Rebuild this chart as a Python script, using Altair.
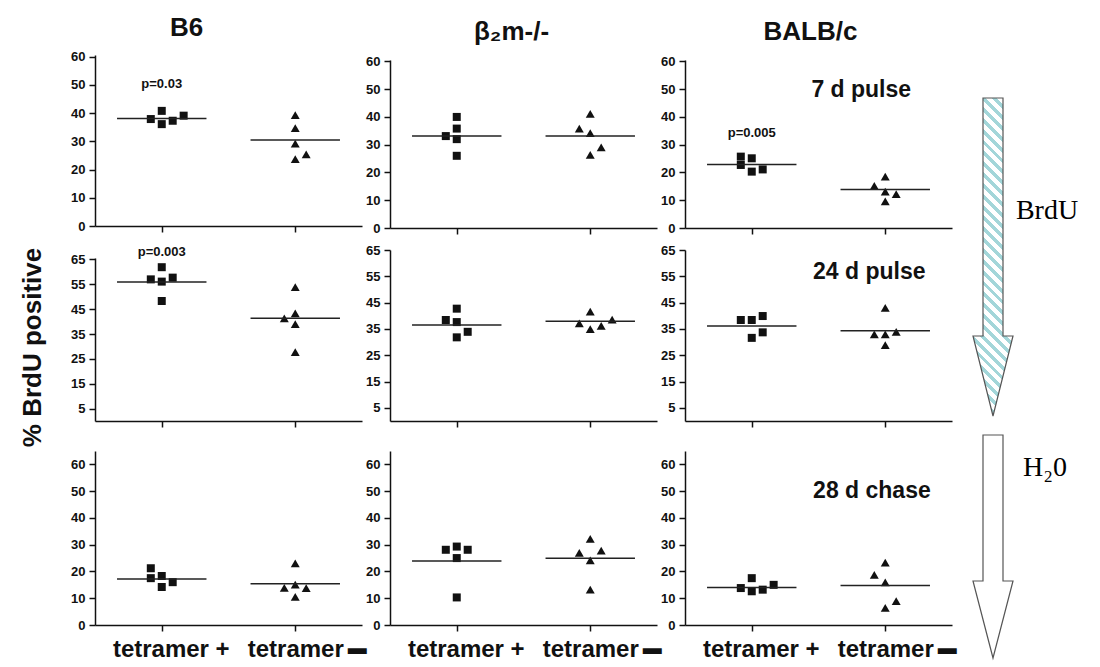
import altair as alt
import pandas as pd

strains = ["B6", "β₂m-/-", "BALB/c"]
stages = ["7 d pulse", "24 d pulse", "28 d chase"]
groups = ["tetramer +", "tetramer -"]

# % BrdU positive, five mice per group
b6_7_pos = [37.9, 40.8, 36.1, 37.3, 39.1]
b6_7_neg = [39.3, 34.7, 29.2, 23.7, 25.4]
b2m_7_pos = [33.1, 40.0, 35.8, 32.0, 26.0]
b2m_7_neg = [35.8, 41.1, 34.2, 29.0, 26.3]
balb_7_pos = [25.7, 25.1, 22.7, 20.3, 21.1]
balb_7_neg = [18.5, 15.2, 13.1, 12.2, 9.6]

b6_24_pos = [61.9, 57.0, 56.1, 57.7, 48.3]
b6_24_neg = [53.9, 43.3, 41.3, 39.0, 27.7]
b2m_24_pos = [42.7, 38.4, 37.6, 33.9, 31.8]
b2m_24_neg = [41.6, 37.1, 38.5, 34.9, 36.2]
balb_24_pos = [38.4, 38.4, 39.9, 33.7, 31.6]
balb_24_neg = [43.0, 32.9, 32.9, 33.9, 28.8]

b6_28_pos = [21.2, 17.5, 18.3, 14.2, 16.0]
b6_28_neg = [23.0, 13.9, 15.1, 13.8, 10.5]
b2m_28_pos = [28.1, 29.3, 28.1, 25.0, 10.3]
b2m_28_neg = [32.2, 26.9, 27.8, 24.1, 13.2]
balb_28_pos = [17.5, 13.8, 12.6, 13.2, 15.0]
balb_28_neg = [23.3, 18.7, 15.9, 8.9, 6.4]

# side-by-side placement of each mouse, in marker widths from the group centre
b6_7_pos_dx = [-1, 0, 0, 1, 2]
b6_7_neg_dx = [0, 0, 0, 0, 1]
b2m_7_pos_dx = [-1, 0, 0, 0, 0]
b2m_7_neg_dx = [-1, 0, 0, 1, 0]
balb_7_pos_dx = [-1, 0, -1, 0, 1]
balb_7_neg_dx = [0, -1, 0, 1, 0]
b6_24_pos_dx = [0, -1, 0, 1, 0]
b6_24_neg_dx = [0, 0, -1, 0, 0]
b2m_24_pos_dx = [0, -1, 0, 1, 0]
b2m_24_neg_dx = [0, -1, 2, 0, 1]
balb_24_pos_dx = [-1, 0, 1, 1, 0]
balb_24_neg_dx = [0, -1, 0, 1, 0]
b6_28_pos_dx = [-1, -1, 0, 0, 1]
b6_28_neg_dx = [0, -1, 0, 1, 0]
b2m_28_pos_dx = [-1, 0, 1, 0, 0]
b2m_28_neg_dx = [0, -1, 1, 0, 0]
balb_28_pos_dx = [0, -1, 0, 1, 2]
balb_28_neg_dx = [0, -1, 0, 1, 0]

# group medians [tetramer +, tetramer -] for B6, b2m-/-, BALB/c
med_7 = [[38.1, 30.5], [33.1, 33.1], [22.9, 13.9]]
med_24 = [[55.9, 41.4], [36.5, 37.9], [36.1, 34.3]]
med_28 = [[17.2, 15.4], [23.9, 24.9], [14.0, 14.8]]

p_texts = ["p=0.03", "p=0.003", "p=0.005"]
p_stage = [0, 1, 0]
p_strain = [0, 0, 2]
p_level = [50.5, 68.0, 34.3]

stage_level = [49.8, 56.7, 50.0]
stage_xpos = [1.32, 1.38, 1.40]

y_ticks = [[0, 10, 20, 30, 40, 50, 60], [5, 15, 25, 35, 45, 55, 65], [0, 10, 20, 30, 40, 50, 60]]

# arrows on the right (BrdU pulse, H2O chase), figure pixel frame
arrow_labels = ["BrdU", "H₂0"]
arrow_top = [100, 437]
arrow_neck = [338, 583]
arrow_tip = [418, 660]
arrow_label_y = [213, 470]
arrow_label_x = [1047, 1045]

VALUES = [
    [(b6_7_pos, b6_7_neg), (b2m_7_pos, b2m_7_neg), (balb_7_pos, balb_7_neg)],
    [(b6_24_pos, b6_24_neg), (b2m_24_pos, b2m_24_neg), (balb_24_pos, balb_24_neg)],
    [(b6_28_pos, b6_28_neg), (b2m_28_pos, b2m_28_neg), (balb_28_pos, balb_28_neg)],
]
STEPS = [
    [(b6_7_pos_dx, b6_7_neg_dx), (b2m_7_pos_dx, b2m_7_neg_dx), (balb_7_pos_dx, balb_7_neg_dx)],
    [(b6_24_pos_dx, b6_24_neg_dx), (b2m_24_pos_dx, b2m_24_neg_dx), (balb_24_pos_dx, balb_24_neg_dx)],
    [(b6_28_pos_dx, b6_28_neg_dx), (b2m_28_pos_dx, b2m_28_neg_dx), (balb_28_pos_dx, balb_28_neg_dx)],
]
MEDIANS = [med_7, med_24, med_28]

# ---- layout / style ----
W = 267
ROW_H = [173, 163, 174]
Y_DOMAIN = [[[0, 60.6], [0, 60.5], [0, 60.5]],
            [[0, 65.6], [0, 65], [0, 65]],
            [[0, 65], [0, 65], [0, 65]]]
Y_RANGE = [[[171, 0], [173, 5], [173, 5]],
           [[163, 0], [163, -8], [163, -8]],
           [[174, 0], [174, 0], [174, 0]]]
STEP = 0.082
HALF = 0.335
INK = "#111111"
SANS = "Liberation Sans"
TITLE_DX = [-42, -12, -8]
BAR_X = 1.965      # position of the raised bar after "tetramer" (x units)
BAR_Y = -8.6       # just below the axis (y units)


def panel(si, ci):
    rows = []
    for gi, g in enumerate(groups):
        for v, s in zip(VALUES[si][ci][gi], STEPS[si][ci][gi]):
            rows.append({"group": g, "xpos": gi + 0.5 + s * STEP, "pct": v})
    pts_df = pd.DataFrame(rows)
    line_df = pd.DataFrame({
        "xpos": [0.5 - HALF, 1.5 - HALF],
        "xend": [0.5 + HALF, 1.5 + HALF],
        "pct": MEDIANS[si][ci],
    })
    txt = []
    for t, s_, c_, lv in zip(p_texts, p_stage, p_strain, p_level):
        if s_ == si and c_ == ci:
            txt.append({"xpos": 0.5, "pct": lv, "label": t})
    big = []
    if ci == 2:
        big.append({"xpos": stage_xpos[si], "pct": stage_level[si], "label": stages[si]})

    xs = alt.Scale(domain=[0, 2], nice=False, zero=False)
    ys = alt.Scale(domain=Y_DOMAIN[si][ci], range=Y_RANGE[si][ci], nice=False, zero=False)

    if si < 2:
        xa = alt.Axis(values=[0.5, 1.5], labels=False, title=None, grid=False,
                      offset=(-2 if (si == 0 and ci == 0) else 0))
    else:
        xa = alt.Axis(values=[0.5, 1.5], title=None, grid=False,
                      labelExpr="datum.value < 1 ? 'tetramer +' : 'tetramer'",
                      labelOffset={"condition": {"test": "datum.value < 1", "value": 9}, "value": 0},
                      labelFontSize=24, labelPadding=6, labelOverlap=False, labelFlush=False)
    if si == 1 and ci == 0:
        ya = alt.Axis(values=y_ticks[si], grid=False, title="% BrdU positive",
                      titleX=-63, titleY=89, titleAngle=270, titleAlign="center",
                      titleBaseline="middle", titleFontSize=26, titleFontWeight="bold")
    else:
        ya = alt.Axis(values=y_ticks[si], grid=False, title=None)

    X = alt.X("xpos:Q", scale=xs, axis=xa)
    Y = alt.Y("pct:Q", scale=ys, axis=ya)

    pts = alt.Chart(pts_df).mark_point(filled=True, opacity=1, color=INK).encode(
        x=X, y=Y,
        shape=alt.Shape("group:N", scale=alt.Scale(domain=groups, range=["square", "triangle-up"]), legend=None),
        size=alt.Size("group:N", scale=alt.Scale(domain=groups, range=[64, 80]), legend=None),
    )
    lines = alt.Chart(line_df).mark_rule(color="#222222", strokeWidth=1.5).encode(
        x=X, x2="xend:Q", y=Y)
    layers = [pts, lines]
    if txt:
        layers.append(alt.Chart(pd.DataFrame(txt)).mark_text(
            font=SANS, fontSize=13, fontWeight="bold", color=INK, baseline="middle").encode(
            x=X, y=Y, text="label:N"))
    if big:
        layers.append(alt.Chart(pd.DataFrame(big)).mark_text(
            font=SANS, fontSize=23, fontWeight="bold", color=INK, baseline="middle").encode(
            x=X, y=Y, text="label:N"))
    if si == 2:
        layers.append(alt.Chart(pd.DataFrame({"xpos": [BAR_X], "pct": [BAR_Y], "label": ["▬"]})).mark_text(
            font=SANS, fontSize=19, color=INK, baseline="middle").encode(
            x=X, y=Y, text="label:N"))
    ch = alt.layer(*layers).properties(width=W, height=ROW_H[si])
    if si == 0:
        ch = ch.properties(title=alt.TitleParams(
            strains[ci], fontSize=26, fontWeight="bold", font=SANS, color=INK,
            anchor="middle", frame="group", offset=10, dx=TITLE_DX[ci]))
    return ch


# ---- arrows (drawn from the 4th cell of the first row) ----
AW = 100
shaft_l, shaft_r, head_l, head_r = 983, 1003, 973, 1013
mid = (shaft_l + shaft_r) / 2
ax_scale = alt.Scale(domain=[980, 980 + AW], nice=False, zero=False)
ay_scale = alt.Scale(domain=[57, 57 + ROW_H[0]], reverse=True, nice=False, zero=False)


def arrow_df(i):
    return pd.DataFrame({
        "y": [arrow_top[i], arrow_neck[i], arrow_neck[i] + 0.01, arrow_tip[i]],
        "xl": [shaft_l, shaft_l, head_l, mid],
        "xr": [shaft_r, shaft_r, head_r, mid],
    })


# diagonal hatch as a hard-stop gradient (stripes at 45 degrees in screen space)
h0 = arrow_tip[0] - arrow_top[0]
g = (head_r - head_l) / h0
span = (1 + g) / (1 + g * g)          # covers the whole bounding box
n_per = 33
stops = []
for k in range(n_per):
    a = k / n_per
    b = (k + 0.45) / n_per
    c = (k + 1) / n_per
    stops += [{"offset": a, "color": "#a3d6d9"}, {"offset": b, "color": "#a3d6d9"},
              {"offset": b, "color": "#ffffff"}, {"offset": c, "color": "#ffffff"}]
hatch = {"gradient": "linear", "x1": 0, "y1": 1, "x2": g * span, "y2": 1 - span, "stops": stops}

arr_y = alt.Y("y:Q", scale=ay_scale, axis=None)
arr_x = alt.X("xl:Q", scale=ax_scale, axis=None)
brdu_arrow = alt.Chart(arrow_df(0)).mark_area(
    orient="horizontal", fill=hatch, stroke="#555555", strokeWidth=1.2, opacity=1).encode(
    y=arr_y, x=arr_x, x2="xr:Q")
h2o_arrow = alt.Chart(arrow_df(1)).mark_area(
    orient="horizontal", fill="#ffffff", stroke="#555555", strokeWidth=1.2, opacity=1).encode(
    y=arr_y, x=arr_x, x2="xr:Q")
arrow_text = alt.Chart(pd.DataFrame({"xl": arrow_label_x, "y": arrow_label_y, "label": arrow_labels})).mark_text(
    font="Liberation Serif", fontSize=28, color="#000000", baseline="middle").encode(
    x=arr_x, y=arr_y, text="label:N")
arrows = alt.layer(brdu_arrow, h2o_arrow, arrow_text).properties(width=AW, height=ROW_H[0])

spacer = alt.Chart(pd.DataFrame({"v": [0]})).mark_point(opacity=0).encode(
    x=alt.X("v:Q", axis=None), y=alt.Y("v:Q", axis=None)).properties(width=AW, height=ROW_H[1])

cells = [panel(0, 0), panel(0, 1), panel(0, 2), arrows,
         panel(1, 0), panel(1, 1), panel(1, 2), spacer,
         panel(2, 0), panel(2, 1), panel(2, 2)]

chart = alt.concat(*cells, columns=4, spacing={"row": 30, "column": 28}, bounds="flush").properties(
    padding={"left": 11, "top": 6, "right": 0, "bottom": 0}
).configure_view(stroke=None).configure_axis(
    domainColor=INK, domainWidth=1.5, tickColor=INK, tickWidth=1.5, tickSize=6,
    labelFont=SANS, labelFontSize=13, labelFontWeight="bold", labelColor=INK, labelPadding=4,
    titleFont=SANS, titleColor=INK, grid=False
).configure_title(font=SANS, color=INK)

chart.save("out.html", embed_options={"renderer": "svg", "actions": False})
